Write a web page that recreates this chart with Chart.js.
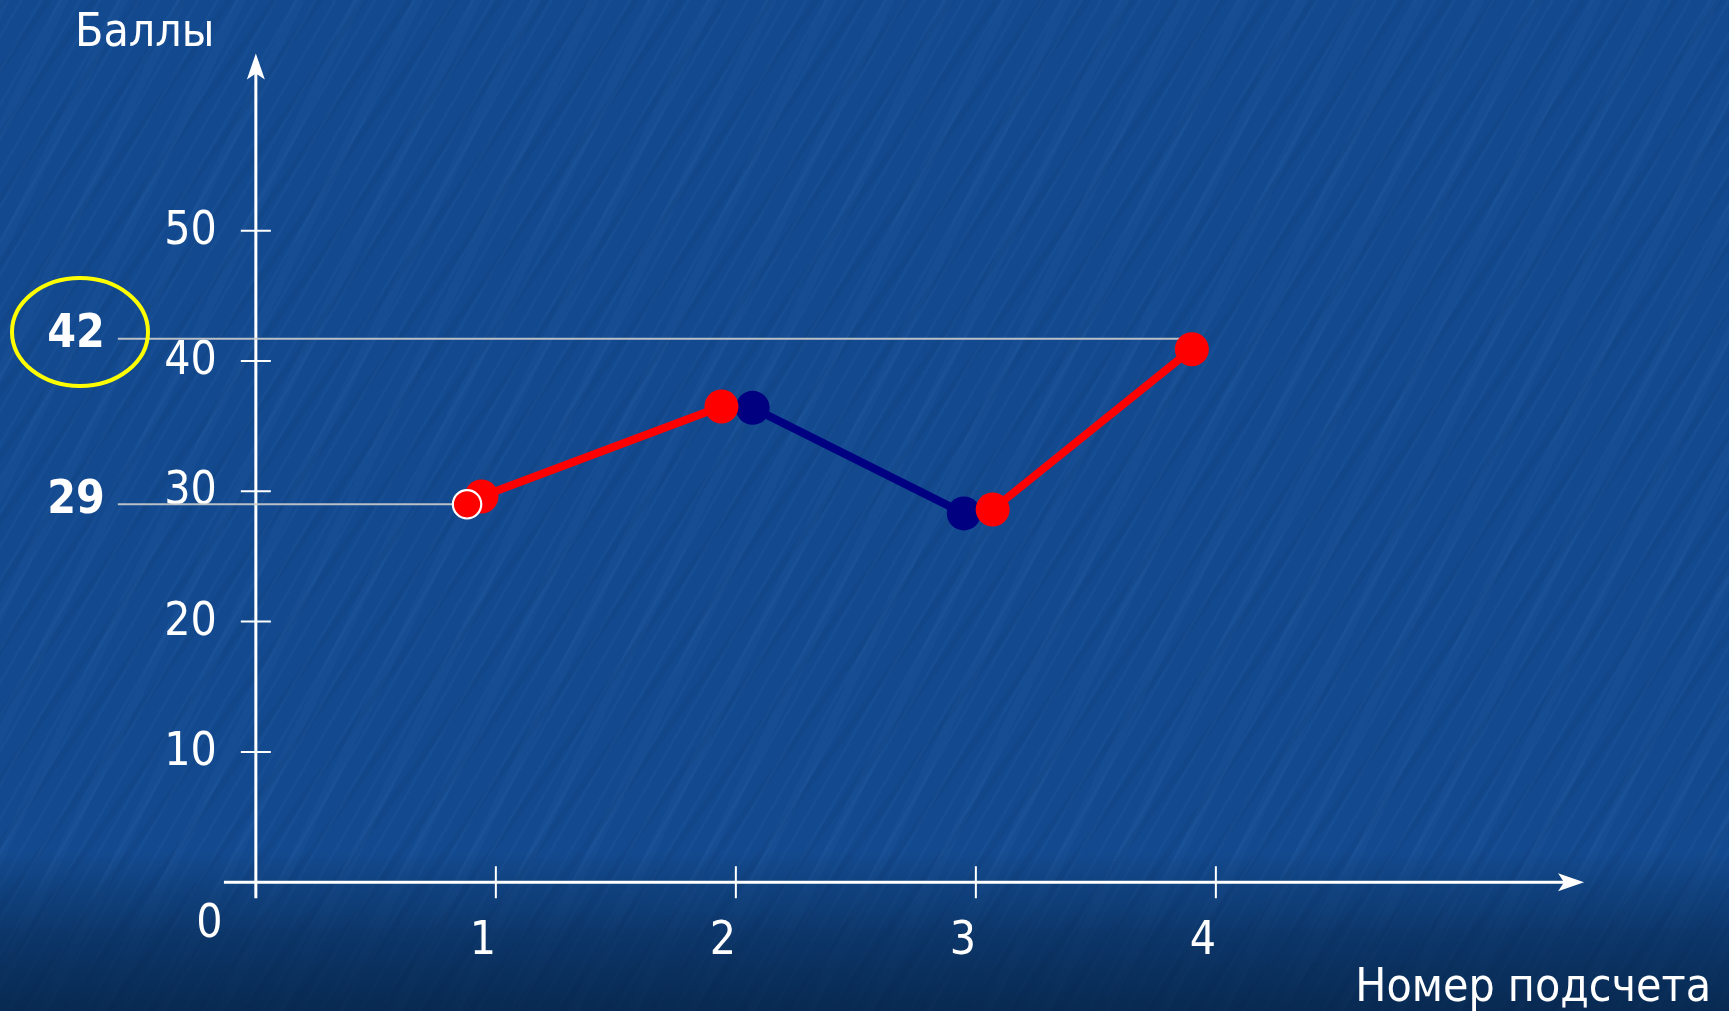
<!DOCTYPE html>
<html lang="ru">
<head>
<meta charset="utf-8">
<title>Баллы по номеру подсчета</title>
<script src="https://cdn.jsdelivr.net/npm/chart.js@4.4.1/dist/chart.umd.min.js"></script>
<style>
  html, body { margin: 0; padding: 0; }
  body {
    width: 1729px; height: 1011px; overflow: hidden;
    background:
      linear-gradient(to bottom, rgba(4,30,62,0) 0px, rgba(4,30,62,0) 850px, rgba(4,32,64,0.5) 940px, rgba(3,28,56,0.7) 1011px),
      repeating-linear-gradient(120deg, rgba(90,150,225,0.05) 0 3px, rgba(0,0,0,0) 3px 17px),
      repeating-linear-gradient(125deg, rgba(0,25,70,0.07) 0 6px, rgba(0,0,0,0) 6px 37px),
      repeating-linear-gradient(116deg, rgba(110,165,235,0.04) 0 9px, rgba(0,0,0,0) 9px 53px),
      #134a8f;
  }
  #wrap { position: relative; width: 1729px; height: 1011px; }
</style>
</head>
<body>
<div id="wrap"><canvas id="scoreChart"></canvas></div>
<script>
// ticks
const countTicks = [1, 2, 3, 4];
const scoreTicks = [10, 20, 30, 40, 50];

// series (x = номер подсчета, y = баллы)
const firstRedX = [0.94, 1.94];
const firstRedY = [29.6, 36.5];
const blueX = [2.07, 2.95];
const blueY = [36.4, 28.3];
const secondRedX = [3.07, 3.9];
const secondRedY = [28.6, 40.9];
const markX = [0.88];
const markY = [29];

// guide lines to the 42 and 29 labels
const guide42X = [-0.575, 3.87];
const guide42Y = 41.7;
const guide29X = [-0.575, 0.88];
const guide29Y = 29;

const font = "'DejaVu Sans Condensed', 'DejaVu Sans', sans-serif";

const pts = (xs, ys) => xs.map((x, i) => ({ x, y: Array.isArray(ys) ? ys[i] : ys }));

// the axes sit inside the plot, so they must not eat any space
const noPadding = s => {
  s.paddingTop = 0;
  s.paddingBottom = 0;
  s.paddingLeft = 0;
  s.paddingRight = 0;
};

const arrowAxes = {
  id: "arrowAxes",
  beforeDatasetsDraw(chart) {
    const { ctx, scales: { x, y } } = chart;
    const x0 = x.getPixelForValue(0);
    const y0 = y.getPixelForValue(0);
    const top = y.getPixelForValue(63.6);
    const right = x.getPixelForValue(5.534);
    ctx.save();
    ctx.strokeStyle = "#fff";
    ctx.fillStyle = "#fff";

    // axis lines
    ctx.lineWidth = 3;
    ctx.beginPath();
    ctx.moveTo(x0, y0 + 16);
    ctx.lineTo(x0, top + 18);
    ctx.moveTo(x.getPixelForValue(-0.133), y0);
    ctx.lineTo(right - 18, y0);
    ctx.stroke();

    // arrow heads
    ctx.beginPath();
    ctx.moveTo(x0, top);
    ctx.lineTo(x0 + 9, top + 26);
    ctx.lineTo(x0, top + 20);
    ctx.lineTo(x0 - 9, top + 26);
    ctx.closePath();
    ctx.fill();
    ctx.beginPath();
    ctx.moveTo(right, y0);
    ctx.lineTo(right - 26, y0 - 9);
    ctx.lineTo(right - 20, y0);
    ctx.lineTo(right - 26, y0 + 9);
    ctx.closePath();
    ctx.fill();

    // tick marks crossing the axes
    ctx.lineWidth = 2;
    ctx.beginPath();
    scoreTicks.forEach(v => {
      const py = y.getPixelForValue(v);
      ctx.moveTo(x0 - 15, py);
      ctx.lineTo(x0 + 15, py);
    });
    countTicks.forEach(v => {
      const px = x.getPixelForValue(v);
      ctx.moveTo(px, y0 - 16);
      ctx.lineTo(px, y0 + 16);
    });
    ctx.stroke();
    ctx.restore();
  },
  afterDraw(chart) {
    const { ctx, scales: { y } } = chart;
    ctx.save();
    ctx.fillStyle = "#fff";
    ctx.font = "46px " + font;
    ctx.textBaseline = "alphabetic";
    ctx.textAlign = "left";
    ctx.fillText("Баллы", 75, 46);
    ctx.textAlign = "right";
    ctx.fillText("Номер подсчета", 1711, 1001);
    ctx.textAlign = "center";
    ctx.textBaseline = "middle";
    ctx.fillText("0", 209.5, 925);

    ctx.font = "bold 46px " + font;
    ctx.fillText("42", 76, y.getPixelForValue(guide42Y) - 4);
    ctx.fillText("29", 76, y.getPixelForValue(guide29Y) - 3);

    ctx.strokeStyle = "#ffff00";
    ctx.lineWidth = 4;
    ctx.beginPath();
    ctx.ellipse(80, 332, 68, 54, 0, 0, Math.PI * 2);
    ctx.stroke();
    ctx.restore();
  }
};

const lineSet = (data, color) => ({
  data,
  borderColor: color,
  backgroundColor: color,
  borderWidth: 8,
  pointRadius: 17,
  pointBorderWidth: 0,
  pointBackgroundColor: color,
  fill: false
});

const guideSet = data => ({
  data,
  borderColor: "rgba(205,205,205,0.9)",
  borderWidth: 2,
  pointRadius: 0,
  fill: false
});

new Chart(document.getElementById("scoreChart"), {
  type: "line",
  data: {
    datasets: [
      {
        data: pts(markX, markY),
        showLine: false,
        pointRadius: 14.2,
        pointBorderWidth: 2.2,
        pointBorderColor: "#fff",
        pointBackgroundColor: "#ff0000"
      },
      lineSet(pts(firstRedX, firstRedY), "#ff0000"),
      lineSet(pts(secondRedX, secondRedY), "#ff0000"),
      lineSet(pts(blueX, blueY), "#000080"),
      guideSet(pts(guide42X, guide42Y)),
      guideSet(pts(guide29X, guide29Y))
    ]
  },
  options: {
    responsive: true,
    maintainAspectRatio: false,
    animation: false,
    layout: { padding: 0, autoPadding: false },
    plugins: { legend: { display: false }, tooltip: { enabled: false } },
    scales: {
      x: {
        type: "linear",
        min: -1.066,
        max: 6.138,
        position: { y: 0 },
        grid: { display: false, drawTicks: false },
        border: { display: false },
        afterBuildTicks: s => { s.ticks = countTicks.map(v => ({ value: v })); },
        afterFit: noPadding,
        ticks: {
          color: "#fff",
          font: { size: 46, family: font },
          padding: 32,
          labelOffset: -13,
          maxRotation: 0,
          autoSkip: false
        }
      },
      y: {
        type: "linear",
        min: -9.885,
        max: 67.7,
        position: { x: -0.1625 },
        grid: { display: false, drawTicks: false },
        border: { display: false },
        afterBuildTicks: s => { s.ticks = scoreTicks.map(v => ({ value: v })); },
        afterFit: noPadding,
        ticks: {
          color: "#fff",
          font: { size: 46, family: font },
          padding: 0,
          labelOffset: 1,
          autoSkip: false
        }
      }
    }
  },
  plugins: [arrowAxes]
});
</script>
</body>
</html>
